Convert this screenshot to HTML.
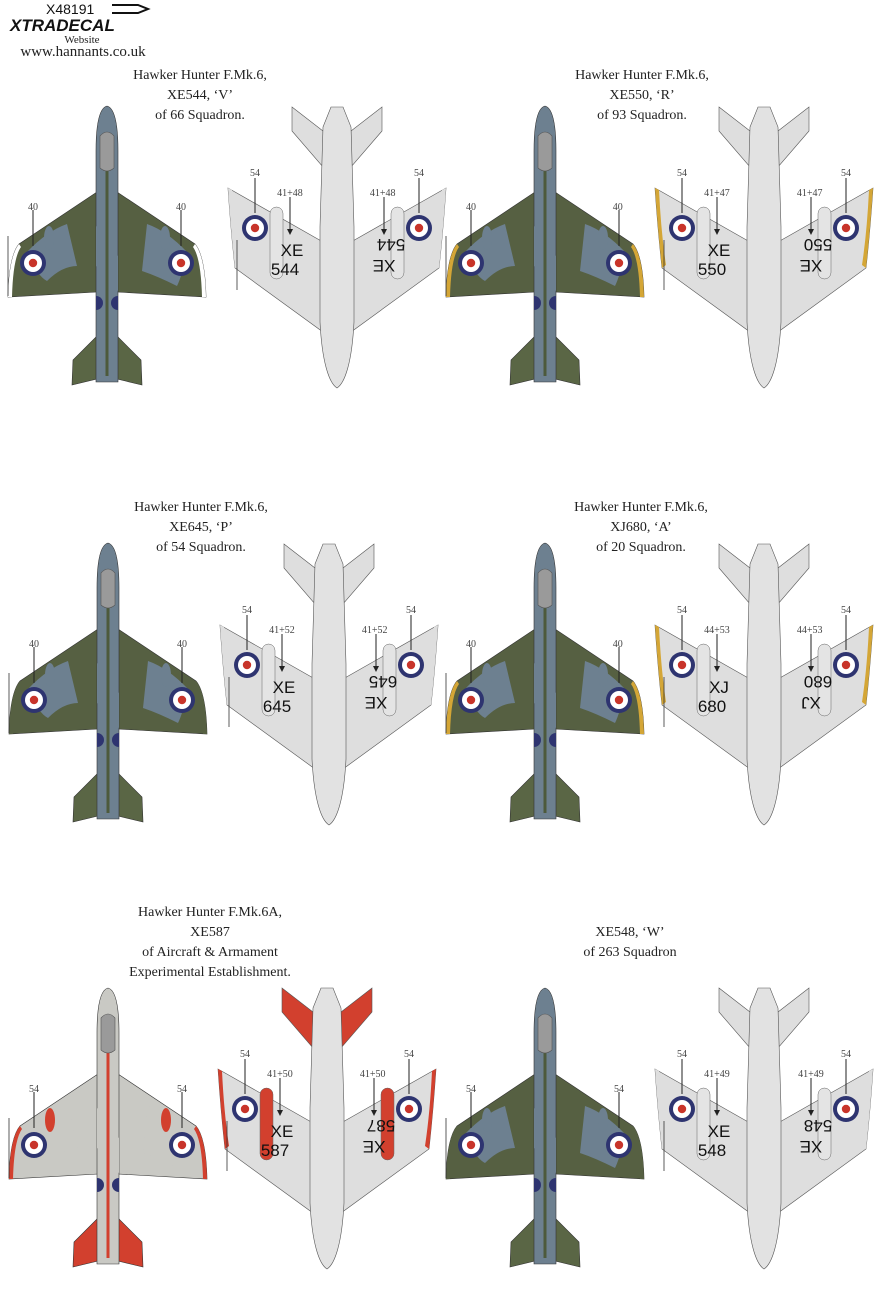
<!DOCTYPE html>
<html><head><meta charset="utf-8"><style>
html,body{margin:0;padding:0;background:#fff;}
svg{display:block}
.t{font-family:"Liberation Serif",serif;font-size:14px;fill:#222;text-anchor:middle}
.s{font-family:"Liberation Serif",serif;font-size:10px;fill:#444;text-anchor:middle}
.ser{font-family:"Liberation Sans",sans-serif;font-size:17px;fill:#111;text-anchor:middle}
</style></head><body>
<svg width="878" height="1300" viewBox="0 0 878 1300" xmlns="http://www.w3.org/2000/svg">
<defs>
<g id="rd"><circle r="13" fill="#2e3470"/><circle r="9" fill="#fff"/><circle r="4.2" fill="#c8342a"/></g>
<g id="top">
 <path d="M-10,86 L-88,138 Q-98,150 -99,191 L-10,186 Z" fill="var(--w)" stroke="#333" stroke-width=".6"/>
 <path d="M10,86 L88,138 Q98,150 99,191 L10,186 Z" fill="var(--w)" stroke="#333" stroke-width=".6"/>
 <path d="M-40,118 Q-60,125 -80,146 Q-70,170 -60,175 Q-45,160 -30,160 Z" fill="var(--p)"/>
 <path d="M40,118 Q60,125 80,146 Q75,170 70,180 Q50,170 35,165 Z" fill="var(--p)"/>
 <path d="M-88,138 Q-98,150 -99,191 L-95,191 Q-94,152 -86,141Z" fill="var(--tip)"/>
 <path d="M88,138 Q98,150 99,191 L95,191 Q94,152 86,141Z" fill="var(--tip)"/>
 <ellipse cx="-58" cy="132" rx="5" ry="12" fill="var(--pod)"/>
 <ellipse cx="58" cy="132" rx="5" ry="12" fill="var(--pod)"/>
 <path d="M-6,226 L-34,254 L-35,279 L-6,272 Z" fill="var(--tl)" stroke="#333" stroke-width=".6"/>
 <path d="M6,226 L34,254 L35,279 L6,272 Z" fill="var(--tl)" stroke="#333" stroke-width=".6"/>
 <path d="M0,0 C8,2 11,20 11,45 L11,276 L-11,276 L-11,45 C-11,20 -8,2 0,0Z" fill="var(--b)" stroke="#333" stroke-width=".6"/>
 <path d="M-11,120 L11,150 L11,185 L-11,160Z" fill="var(--p)"/>
 <rect x="-1.5" y="60" width="3" height="210" fill="var(--sp)"/>
 <path d="M-7,30 Q0,22 7,30 L7,62 Q0,68 -7,62Z" fill="#9a9a9a" stroke="#555" stroke-width=".6"/>
 <use href="#rd" transform="translate(-74,157)"/><use href="#rd" transform="translate(74,157)"/>
 <path d="M-11,190 A7,7 0 0 1 -11,204Z" fill="#2e3470"/><path d="M11,190 A7,7 0 0 0 11,204Z" fill="#2e3470"/>
 <line x1="-74" y1="104" x2="-74" y2="140" stroke="#222"/><line x1="74" y1="104" x2="74" y2="140" stroke="#222"/>
 <line x1="-99" y1="130" x2="-99" y2="190" stroke="#333" stroke-width=".8"/>
</g>
<g id="und">
 <path d="M-14,24 L-45,0 L-45,24 L-14,60 Z" fill="var(--tl)" stroke="#555" stroke-width=".6"/>
 <path d="M14,24 L45,0 L45,24 L14,60 Z" fill="var(--tl)" stroke="#555" stroke-width=".6"/>
 <path d="M-14,135 L-109,81 Q-106,125 -102,161 L-14,225 Z" fill="#dedede" stroke="#555" stroke-width=".6"/>
 <path d="M14,135 L109,81 Q106,125 102,161 L14,225 Z" fill="#dedede" stroke="#555" stroke-width=".6"/>
 <path d="M-109,81 Q-106,125 -102,161 L-98,158 Q-103,125 -105,83Z" fill="var(--tip)"/>
 <path d="M109,81 Q106,125 102,161 L98,158 Q103,125 105,83Z" fill="var(--tip)"/>
 <path d="M-14,20 L-6,0 L6,0 L14,20 L17,120 L17,215 C15,255 8,276 0,281 C-8,276 -15,255 -17,215 L-17,120Z" fill="#e2e2e2" stroke="#555" stroke-width=".6"/>
 <rect x="-67" y="100" width="13" height="72" rx="6.5" fill="var(--pod)" stroke="#666" stroke-width=".5"/>
 <rect x="54" y="100" width="13" height="72" rx="6.5" fill="var(--pod)" stroke="#666" stroke-width=".5"/>
 <use href="#rd" transform="translate(-82,121)"/><use href="#rd" transform="translate(82,121)"/>
 <line x1="-82" y1="71" x2="-82" y2="106" stroke="#222"/><line x1="82" y1="71" x2="82" y2="106" stroke="#222"/>
 <line x1="-47" y1="90" x2="-47" y2="127" stroke="#222"/><line x1="47" y1="90" x2="47" y2="127" stroke="#222"/>
 <path d="M-50,122 L-44,122 L-47,128Z" fill="#222"/><path d="M44,122 L50,122 L47,128Z" fill="#222"/>
 <line x1="-100" y1="133" x2="-100" y2="183" stroke="#333" stroke-width=".8"/>
</g>
</defs>

<text x="46" y="14" font-family="Liberation Sans,sans-serif" font-size="14" fill="#111">X48191</text>
<path d="M112,5 L138,5 L148,9 L138,13 L112,13" fill="none" stroke="#111" stroke-width="2"/>
<text x="10" y="31" font-family="Liberation Sans,sans-serif" font-size="17" font-weight="bold" font-style="italic" fill="#111">XTRADECAL</text>
<text x="82" y="43" class="s" style="font-size:11px;fill:#222">Website</text>
<text x="83" y="56" class="t" style="font-size:15px">www.hannants.co.uk</text>

<text class="t"><tspan x="200" y="79">Hawker Hunter F.Mk.6,</tspan><tspan x="200" y="99">XE544, ‘V’</tspan><tspan x="200" y="119">of 66 Squadron.</tspan></text>
<text class="t"><tspan x="642" y="79">Hawker Hunter F.Mk.6,</tspan><tspan x="642" y="99">XE550, ‘R’</tspan><tspan x="642" y="119">of 93 Squadron.</tspan></text>
<text class="t"><tspan x="201" y="511">Hawker Hunter F.Mk.6,</tspan><tspan x="201" y="531">XE645, ‘P’</tspan><tspan x="201" y="551">of 54 Squadron.</tspan></text>
<text class="t"><tspan x="641" y="511">Hawker Hunter F.Mk.6,</tspan><tspan x="641" y="531">XJ680, ‘A’</tspan><tspan x="641" y="551">of 20 Squadron.</tspan></text>
<text class="t"><tspan x="210" y="916">Hawker Hunter F.Mk.6A,</tspan><tspan x="210" y="936">XE587</tspan><tspan x="210" y="956">of Aircraft &amp; Armament</tspan><tspan x="210" y="976">Experimental Establishment.</tspan></text>
<text class="t"><tspan x="630" y="936">XE548, ‘W’</tspan><tspan x="630" y="956">of 263 Squadron</tspan></text>

<g style="--b:#6d8090;--w:#566042;--p:#6d8090;--tip:#fff;--tl:#5a6645;--pod:#6d8090;--sp:#4d5a3c"><use href="#top" transform="translate(107,106)"/></g>
<g style="--b:#6d8090;--w:#566042;--p:#6d8090;--tip:#d4a636;--tl:#5a6645;--pod:#6d8090;--sp:#4d5a3c"><use href="#top" transform="translate(545,106)"/></g>
<g style="--b:#6d8090;--w:#566042;--p:#6d8090;--tip:#566042;--tl:#5a6645;--pod:#6d8090;--sp:#4d5a3c"><use href="#top" transform="translate(108,543)"/></g>
<g style="--b:#6d8090;--w:#566042;--p:#6d8090;--tip:#d4a636;--tl:#5a6645;--pod:#6d8090;--sp:#4d5a3c"><use href="#top" transform="translate(545,543)"/></g>
<g style="--b:#c9c9c4;--w:#c9c9c4;--p:#c9c9c4;--tip:#d2402e;--tl:#d2402e;--pod:#d2402e;--sp:#d2402e"><use href="#top" transform="translate(108,988)"/></g>
<g style="--b:#6d8090;--w:#566042;--p:#6d8090;--tip:#566042;--tl:#5a6645;--pod:#6d8090;--sp:#4d5a3c"><use href="#top" transform="translate(545,988)"/></g>

<text class="s"><tspan x="33" y="210">40</tspan><tspan x="181" y="210">40</tspan><tspan x="471" y="210">40</tspan><tspan x="619" y="210">40</tspan>
<tspan x="34" y="647">40</tspan><tspan x="182" y="647">40</tspan><tspan x="471" y="647">40</tspan><tspan x="619" y="647">40</tspan>
<tspan x="34" y="1092">54</tspan><tspan x="182" y="1092">54</tspan><tspan x="471" y="1092">54</tspan><tspan x="619" y="1092">54</tspan></text>

<g style="--tl:#dedede;--tip:#dedede;--pod:#e4e4e4"><use href="#und" transform="translate(337,107)"/></g>
<g style="--tl:#dedede;--tip:#d4a636;--pod:#e4e4e4"><use href="#und" transform="translate(764,107)"/></g>
<g style="--tl:#dedede;--tip:#dedede;--pod:#e4e4e4"><use href="#und" transform="translate(329,544)"/></g>
<g style="--tl:#dedede;--tip:#d4a636;--pod:#e4e4e4"><use href="#und" transform="translate(764,544)"/></g>
<g style="--tl:#d2402e;--tip:#d2402e;--pod:#d2402e"><use href="#und" transform="translate(327,988)"/></g>
<g style="--tl:#dedede;--tip:#dedede;--pod:#e4e4e4"><use href="#und" transform="translate(764,988)"/></g>

<text class="s"><tspan x="255" y="176">54</tspan><tspan x="419" y="176">54</tspan><tspan x="290" y="196">41+48</tspan><tspan x="384" y="196">41+48</tspan>
<tspan x="682" y="176">54</tspan><tspan x="846" y="176">54</tspan><tspan x="717" y="196">41+47</tspan><tspan x="811" y="196">41+47</tspan>
<tspan x="247" y="613">54</tspan><tspan x="411" y="613">54</tspan><tspan x="282" y="633">41+52</tspan><tspan x="376" y="633">41+52</tspan>
<tspan x="682" y="613">54</tspan><tspan x="846" y="613">54</tspan><tspan x="717" y="633">44+53</tspan><tspan x="811" y="633">44+53</tspan>
<tspan x="245" y="1057">54</tspan><tspan x="409" y="1057">54</tspan><tspan x="280" y="1077">41+50</tspan><tspan x="374" y="1077">41+50</tspan>
<tspan x="682" y="1057">54</tspan><tspan x="846" y="1057">54</tspan><tspan x="717" y="1077">41+49</tspan><tspan x="811" y="1077">41+49</tspan></text>

<g class="ser">
<text class="ser" x="292" y="256">XE</text><text class="ser" x="285" y="275">544</text>
<text class="ser" transform="rotate(180 384 258)" x="384" y="256">XE</text><text class="ser" transform="rotate(180 391 258)" x="391" y="277">544</text>
<text class="ser" x="719" y="256">XE</text><text class="ser" x="712" y="275">550</text>
<text class="ser" transform="rotate(180 811 258)" x="811" y="256">XE</text><text class="ser" transform="rotate(180 818 258)" x="818" y="277">550</text>
<text class="ser" x="284" y="693">XE</text><text class="ser" x="277" y="712">645</text>
<text class="ser" transform="rotate(180 376 695)" x="376" y="693">XE</text><text class="ser" transform="rotate(180 383 695)" x="383" y="714">645</text>
<text class="ser" x="719" y="693">XJ</text><text class="ser" x="712" y="712">680</text>
<text class="ser" transform="rotate(180 811 695)" x="811" y="693">XJ</text><text class="ser" transform="rotate(180 818 695)" x="818" y="714">680</text>
<text class="ser" x="282" y="1137">XE</text><text class="ser" x="275" y="1156">587</text>
<text class="ser" transform="rotate(180 374 1139)" x="374" y="1137">XE</text><text class="ser" transform="rotate(180 381 1139)" x="381" y="1158">587</text>
<text class="ser" x="719" y="1137">XE</text><text class="ser" x="712" y="1156">548</text>
<text class="ser" transform="rotate(180 811 1139)" x="811" y="1137">XE</text><text class="ser" transform="rotate(180 818 1139)" x="818" y="1158">548</text>
</g>
</svg>
</body></html>
